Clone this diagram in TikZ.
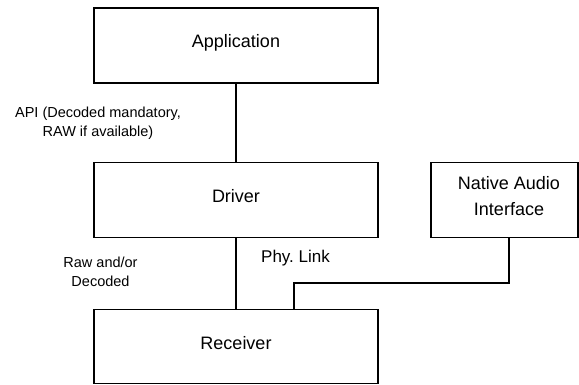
\documentclass[tikz,border=0pt]{standalone}
\usepackage{fontspec}
\setmainfont{Liberation Sans}
\frenchspacing
\begin{document}
\begin{tikzpicture}[x=1pt,y=-1pt,
  blockbox/.style={draw=black,line width=1.6pt,fill=white,inner sep=0pt},
  wire/.style={draw=black,line width=1.6pt},
  boxtext/.style={anchor=base,inner sep=0pt,font=\fontsize{18}{24}\selectfont},
  note/.style={inner sep=0pt,align=center,font=\fontsize{14.5}{19}\selectfont},
  linknote/.style={inner sep=0pt,font=\fontsize{17}{20}\selectfont}]
\useasboundingbox (0,0) rectangle (579,385);

% blocks
\node[blockbox,minimum width=284pt,minimum height=74.5pt] (app) at (236,45.5) {};
\node[blockbox,minimum width=284pt,minimum height=75pt] (drv) at (236,200) {};
\node[blockbox,minimum width=284pt,minimum height=74pt] (rcv) at (236,346.3) {};
\node[blockbox,minimum width=147pt,minimum height=75pt] (nai) at (504.5,200) {};

% block captions (base anchor sits on the last line)
\node[boxtext] (apptext) at (236,48) {Application};
\node[boxtext] (drvtext) at (236,203) {Driver};
\node[boxtext] (rcvtext) at (236,349) {Receiver};
\node[boxtext,align=center,font=\fontsize{18}{25}\selectfont] (naitext) at (509,215) {Native Audio\\Interface};

% connectors
\coordinate (tap) at (294,309.3);
\draw[wire] (app.south) -- (drv.north);
\draw[wire] (drv.south) -- (rcv.north);
\draw[wire] (nai.south -| naitext.base) -- ++(0,44.5) -| (tap);

% connector notes
\node[note,anchor=base] (apinote) at (98,137) {API (Decoded mandatory,\\RAW if available)};
\node[note,anchor=base] (rawnote) at (100.5,287) {Raw and/or\\Decoded};
\node[linknote,anchor=base west] (phynote) at (261,262) {Phy. Link};
\end{tikzpicture}
\end{document}
